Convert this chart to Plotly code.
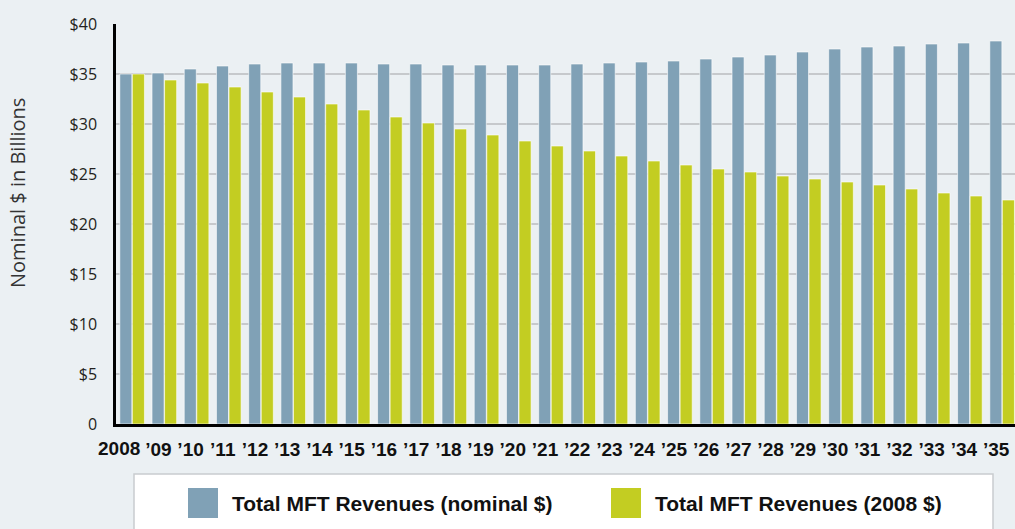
import plotly.graph_objects as go

# Motor fuel tax revenue projections, $ billions
years = [str(y) for y in range(2008, 2036)]
tick_labels = ["2008", "’09", "’10", "’11", "’12", "’13", "’14", "’15", "’16", "’17",
               "’18", "’19", "’20", "’21", "’22", "’23", "’24", "’25", "’26", "’27",
               "’28", "’29", "’30", "’31", "’32", "’33", "’34", "’35"]
nominal = [35.0, 35.1, 35.5, 35.8, 36.0, 36.1, 36.1, 36.1, 36.0, 36.0,
           35.9, 35.9, 35.9, 35.9, 36.0, 36.1, 36.2, 36.3, 36.5, 36.7,
           36.9, 37.2, 37.5, 37.7, 37.8, 38.0, 38.1, 38.3]
real_2008 = [35.0, 34.4, 34.1, 33.7, 33.2, 32.7, 32.0, 31.4, 30.7, 30.1,
             29.5, 28.9, 28.3, 27.8, 27.3, 26.8, 26.3, 25.9, 25.5, 25.2,
             24.8, 24.5, 24.2, 23.9, 23.5, 23.1, 22.8, 22.4]
y_ticks = [0, 5, 10, 15, 20, 25, 30, 35, 40]
y_tick_text = ["0", "$5", "$10", "$15", "$20", "$25", "$30", "$35", "$40"]
series_names = ["Total MFT Revenues (nominal $)", "Total MFT Revenues (2008 $)"]

BLUE = "#80a1b6"
GREEN = "#c3cd22"
BG = "#ebf0f3"
GRID = "#c6c9cc"
TEXT = "#231f20"
XFONT = dict(family="Liberation Sans, Arial, sans-serif", size=19, color="#111111", weight="bold")

fig = go.Figure()
fig.add_trace(go.Bar(x=years, y=nominal, name=series_names[0],
                     marker=dict(color=BLUE, line=dict(color="white", width=0.6))))
fig.add_trace(go.Bar(x=years, y=real_2008, name=series_names[1],
                     marker=dict(color=GREEN, line=dict(color="white", width=0.6))))

W, H = 1015, 529
L, T, B, R = 116, 24, 105, 0
pw, ph = W - L - R, H - T - B


def px(xp):
    return (xp - L) / pw


def py(yp):
    return (H - B - yp) / ph


# the wide first label is set separately, nudged left so it clears "’09"
axis_labels = [""] + tick_labels[1:]

fig.update_layout(
    width=W, height=H,
    margin=dict(l=L, r=R, t=T, b=B, pad=0),
    paper_bgcolor=BG, plot_bgcolor=BG,
    barmode="group", bargap=0.22, bargroupgap=0.04,
    showlegend=False,
    font=dict(family="Liberation Sans, Arial, sans-serif", color=TEXT),
    xaxis=dict(
        type="category", range=[-0.5, 27.4],
        tickmode="array", tickvals=years, ticktext=axis_labels,
        tickfont=XFONT,
        showgrid=False, showline=True, linecolor="#000000", linewidth=2.5,
        ticks="", ticklabelstandoff=6, ticklabelshift=-6, tickangle=0,
    ),
    yaxis=dict(
        range=[0, 40], tickmode="array", tickvals=y_ticks, ticktext=y_tick_text,
        tickfont=dict(family="Open Sans, Liberation Sans, sans-serif", size=16, color=TEXT),
        showgrid=True, gridcolor=GRID, gridwidth=2,
        showline=True, linecolor="#000000", linewidth=2.5,
        zeroline=False, ticks="", ticklabelstandoff=13,
    ),
)

# category axes place annotations by category index
fig.add_annotation(
    text=tick_labels[0], xref="x", yref="paper", x=years.index(years[0]), y=py(448),
    xshift=-13, xanchor="center", yanchor="middle", showarrow=False, font=XFONT,
)

# y-axis title
fig.add_annotation(
    text="Nominal $ in Billions", textangle=-90,
    xref="paper", yref="paper", x=px(17), y=py(193),
    xanchor="center", yanchor="middle", showarrow=False,
    font=dict(family="Open Sans, Liberation Sans, sans-serif", size=20, color="#333333"),
)

# legend panel
fig.add_shape(type="rect", xref="paper", yref="paper",
              x0=px(134), x1=px(993), y0=py(545), y1=py(474),
              fillcolor="white", line=dict(color="#c9cccf", width=1.5), layer="below")
legend_items = [(series_names[0], BLUE, 188, 230), (series_names[1], GREEN, 611, 653)]
for name, color, sx, tx in legend_items:
    fig.add_shape(type="rect", xref="paper", yref="paper",
                  x0=px(sx), x1=px(sx + 30), y0=py(518), y1=py(488),
                  fillcolor=color, line=dict(width=0))
    fig.add_annotation(text=name, xref="paper", yref="paper",
                       x=px(tx), y=py(503), xanchor="left", yanchor="middle",
                       showarrow=False,
                       font=dict(family="Liberation Sans, Arial, sans-serif", size=21,
                                 color="#111111", weight="bold"))

fig.write_html("out.html")
